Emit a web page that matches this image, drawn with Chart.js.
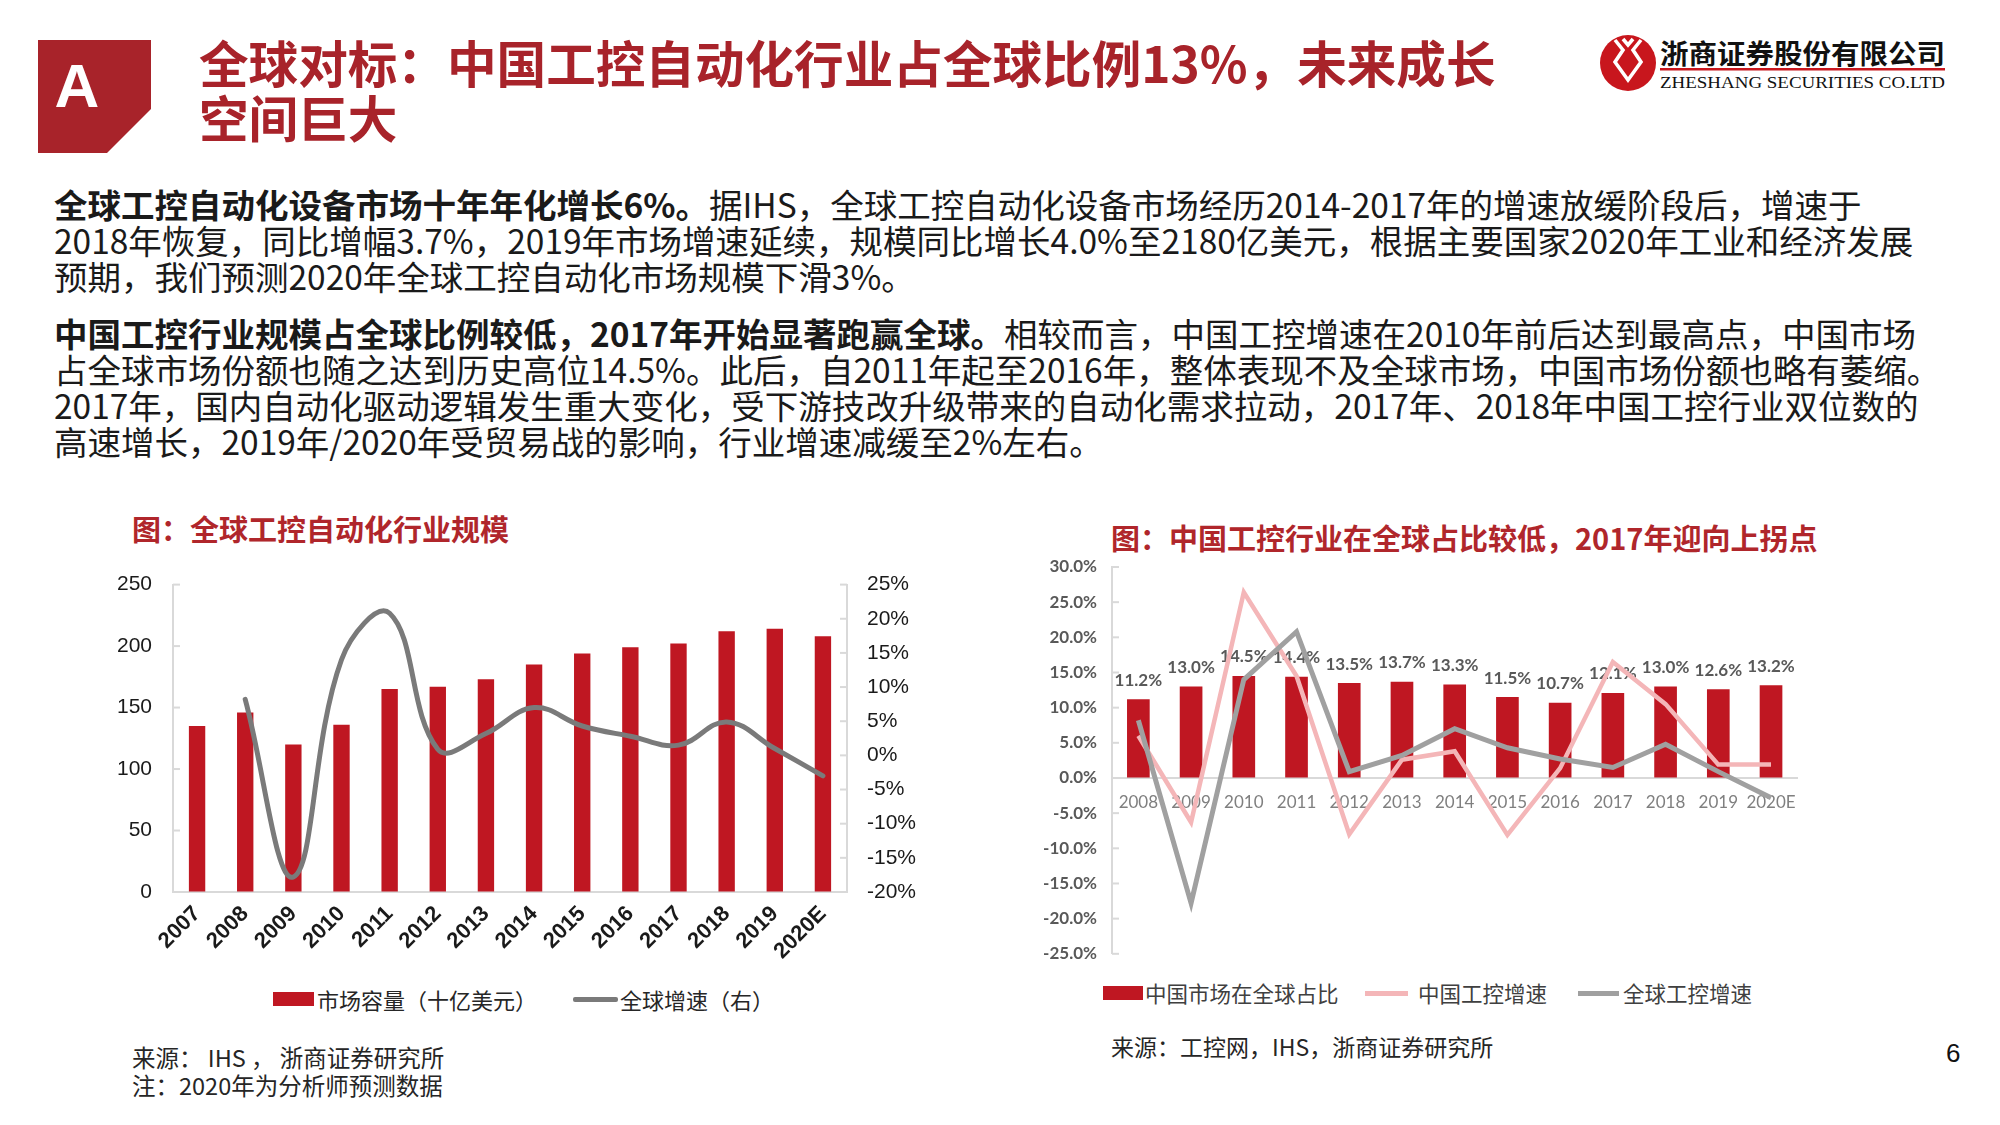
<!DOCTYPE html>
<html><head><meta charset="utf-8">
<script src="https://cdn.jsdelivr.net/npm/chart.js@4.4.1/dist/chart.umd.min.js"></script>
<style>
html,body{margin:0;padding:0;background:#fff;}
#page{position:relative;width:2000px;height:1125px;overflow:hidden;background:#fff;font-family:"Noto Sans CJK SC","Noto Sans",sans-serif;color:#1a1a1a;}
.abs{position:absolute;white-space:nowrap;}
.title{left:199px;top:34px;font-size:49.6px;font-weight:700;color:#A8232A;line-height:55px;}
.para{left:54px;font-size:33.5px;color:#1a1a1a;}
.para div{height:36px;line-height:36px;}
.para b{font-weight:700;}
.ctitle{font-size:29px;font-weight:700;color:#B0262B;line-height:36px;}
.src{font-size:23.5px;line-height:28px;height:28px;color:#262626;}
.leg{font-size:22px;line-height:28px;color:#262626;}
canvas{position:absolute;}
</style>
</head><body><div id="page">

<svg class="abs" style="left:0;top:0" width="2000" height="160">
  <polygon points="38,40 151,40 151,109 107,153 38,153" fill="#A8232A"/>
  <text x="77" y="85" fill="#fff" font-family="Liberation Sans, Arial" font-weight="700" font-size="62" text-anchor="middle" dominant-baseline="central">A</text>
  <circle cx="1628" cy="63" r="28" fill="#C8161D"/>
  <g transform="translate(1628,63)" fill="none" stroke="#fff" stroke-width="3.6" stroke-linejoin="miter">
    <path d="M-13,-23 L-5,-13 L-13,-1 L0,17 L13,-1 L5,-13 L13,-23"/>
    <path d="M-5,-24 L0,-18 L5,-24"/>
  </g>
  <text x="1660" y="52" fill="#111" font-family="Noto Sans CJK SC" font-weight="700" font-size="27" dominant-baseline="central" textLength="285" lengthAdjust="spacingAndGlyphs">浙商证券股份有限公司</text>
  <rect x="1660" y="68" width="285" height="2.5" fill="#C8161D"/>
  <text x="1660" y="82" fill="#111" font-family="Liberation Serif, Times New Roman" font-size="17" dominant-baseline="central" textLength="285" lengthAdjust="spacingAndGlyphs">ZHESHANG SECURITIES CO.LTD</text>
</svg>

<div class="abs title">全球对标：中国工控自动化行业占全球比例13%，未来成长<br>空间巨大</div>

<div class="abs para" style="top:186px">
<div><b>全球工控自动化设备市场十年年化增长6%。</b>据IHS，全球工控自动化设备市场经历2014-2017年的增速放缓阶段后，增速于</div>
<div>2018年恢复，同比增幅3.7%，2019年市场增速延续，规模同比增长4.0%至2180亿美元，根据主要国家2020年工业和经济发展</div>
<div>预期，我们预测2020年全球工控自动化市场规模下滑3%。</div>
</div>
<div class="abs para" style="top:315px">
<div><b>中国工控行业规模占全球比例较低，2017年开始显著跑赢全球。</b>相较而言，中国工控增速在2010年前后达到最高点，中国市场</div>
<div>占全球市场份额也随之达到历史高位14.5%。此后，自2011年起至2016年，整体表现不及全球市场，中国市场份额也略有萎缩。</div>
<div>2017年，国内自动化驱动逻辑发生重大变化，受下游技改升级带来的自动化需求拉动，2017年、2018年中国工控行业双位数的</div>
<div>高速增长，2019年/2020年受贸易战的影响，行业增速减缓至2%左右。</div>
</div>

<div class="abs ctitle" style="left:132px;top:510px">图：全球工控自动化行业规模</div>
<div class="abs ctitle" style="left:1111px;top:519px">图：中国工控行业在全球占比较低，2017年迎向上拐点</div>

<canvas id="c1" width="820" height="400" style="left:100px;top:570px"></canvas>
<canvas id="c2" width="780" height="416" style="left:1030px;top:550px"></canvas>

<!-- left legend -->
<div class="abs" style="left:273px;top:992px;width:41px;height:14px;background:#BF1722"></div>
<div class="abs leg" style="left:317px;top:985px">市场容量（十亿美元）</div>
<div class="abs" style="left:573px;top:997px;width:45px;height:5px;background:#7A7A7A;border-radius:2px"></div>
<div class="abs leg" style="left:620px;top:985px">全球增速（右）</div>

<!-- right legend -->
<div class="abs" style="left:1103px;top:986px;width:40px;height:14px;background:#BF1722"></div>
<div class="abs leg" style="left:1145px;top:979px;color:#404040;font-size:21.5px">中国市场在全球占比</div>
<div class="abs" style="left:1365px;top:991px;width:43px;height:5px;background:#F4B6B8"></div>
<div class="abs leg" style="left:1418px;top:979px;color:#404040;font-size:21.5px">中国工控增速</div>
<div class="abs" style="left:1578px;top:991px;width:41px;height:5px;background:#A0A0A0"></div>
<div class="abs leg" style="left:1623px;top:979px;color:#404040;font-size:21.5px">全球工控增速</div>

<div class="abs src" style="left:132px;top:1043px">来源： IHS ， 浙商证券研究所</div>
<div class="abs src" style="left:132px;top:1071px">注：2020年为分析师预测数据</div>
<div class="abs src" style="left:1111px;top:1032px;font-size:23px">来源：工控网，IHS，浙商证券研究所</div>
<div class="abs" style="left:1946px;top:1035px;font-size:26px;line-height:36px;font-family:'Liberation Sans',Arial;color:#111">6</div>

</div>
<script>
// ---- data: left chart ----
const years = ['2007','2008','2009','2010','2011','2012','2013','2014','2015','2016','2017','2018','2019','2020E'];
const marketSize = [135,146,120,136,165,167,173,185,194,199,202,212,214,208];
const globalGrowthLeft = [null,8.2,-17.8,14.0,20.8,0.9,3.2,7.0,4.3,2.8,1.5,4.9,1.0,-3.0];
// ---- data: right chart ----
const cnYears = ['2008','2009','2010','2011','2012','2013','2014','2015','2016','2017','2018','2019','2020E'];
const cnShare = [11.2,13.0,14.5,14.4,13.5,13.7,13.3,11.5,10.7,12.1,13.0,12.6,13.2];
const cnGrowth = [6.0,-6.3,26.4,14.5,-8.0,2.6,3.8,-8.1,1.4,16.5,10.5,1.9,1.9];
const globalGrowthRight = [8.2,-17.8,14.0,20.8,0.9,3.2,7.0,4.3,2.7,1.5,4.8,0.9,-2.8];

const RED = '#BF1722';
const AXIS = '#D9D9D9';

const innerTicks = {
  id:'innerTicks',
  beforeDatasetsDraw(chart, args, opts){
    const ctx = chart.ctx;
    (opts.axes||[]).forEach(a=>{
      const s = chart.scales[a.id]; if(!s) return;
      ctx.save(); ctx.strokeStyle = opts.color; ctx.lineWidth = opts.width;
      s.ticks.forEach((t,i)=>{
        const y = s.getPixelForTick(i);
        const x0 = a.side==='left' ? s.right : s.left;
        const x1 = a.side==='left' ? x0 + opts.len : x0 - opts.len;
        ctx.beginPath(); ctx.moveTo(x0,y); ctx.lineTo(x1,y); ctx.stroke();
      });
      ctx.restore();
    });
  }
};

const barLabels = {
  id:'barLabels',
  afterDatasetDraw(chart, args){
    if(args.index!==0) return;
    const ctx = chart.ctx;
    ctx.save();
    ctx.font = 'bold 17px Lato';
    ctx.fillStyle = '#595959';
    ctx.textAlign = 'center';
    ctx.textBaseline = 'middle';
    args.meta.data.forEach((el,i)=>{
      ctx.fillText(cnShare[i].toFixed(1)+'%', el.x, el.y - 19);
    });
    ctx.restore();
  }
};

const hiddenTicks = len => ({display:true, drawOnChartArea:false, drawTicks:true, tickLength:len, color:'rgba(0,0,0,0)'});

new Chart(document.getElementById('c1'), {
  data:{
    labels: years,
    datasets:[
      {type:'bar', label:'市场容量（十亿美元）', data: marketSize, backgroundColor: RED,
       yAxisID:'y', order:2, barPercentage:0.34, categoryPercentage:1},
      {type:'line', label:'全球增速（右）', data: globalGrowthLeft, borderColor:'#7A7A7A', borderWidth:5,
       pointRadius:0, tension:0.4, yAxisID:'y1', order:1, borderCapStyle:'round'}
    ]
  },
  options:{
    responsive:false, animation:false, devicePixelRatio:1,
    layout:{padding:{top:11,left:0,right:0,bottom:0}},
    plugins:{legend:{display:false}, tooltip:{enabled:false},
      innerTicks:{axes:[{id:'y',side:'left'},{id:'y1',side:'right'}], color:AXIS, width:2, len:7}},
    scales:{
      x:{ grid:{display:false, drawTicks:false}, border:{display:true,color:AXIS,width:2},
          ticks:{autoSkip:false, minRotation:45, maxRotation:45, padding:9, color:'#1a1a1a',
                 font:{family:'"Liberation Sans", Arial', size:22, weight:'bold'}},
          afterFit:s=>{s.height=78;} },
      y:{ position:'left', min:0, max:250, grid:hiddenTicks(19),
          border:{display:true,color:AXIS,width:2},
          ticks:{stepSize:50, padding:2, color:'#1a1a1a', font:{family:'"Liberation Sans", Arial', size:21}},
          afterFit:s=>{s.width=73;} },
      y1:{ position:'right', min:-20, max:25, grid:hiddenTicks(18),
          border:{display:true,color:AXIS,width:2},
          ticks:{stepSize:5, padding:2, color:'#1a1a1a', font:{family:'"Liberation Sans", Arial', size:21},
                 callback:v=>v+'%'},
          afterFit:s=>{s.width=73;} }
    }
  },
  plugins:[innerTicks]
});

new Chart(document.getElementById('c2'), {
  data:{
    labels: cnYears,
    datasets:[
      {type:'bar', label:'中国市场在全球占比', data: cnShare, backgroundColor: RED, order:3,
       barPercentage:0.43, categoryPercentage:1},
      {type:'line', label:'中国工控增速', data: cnGrowth, borderColor:'#F4B6B8', borderWidth:4.5,
       pointRadius:0, tension:0, order:2},
      {type:'line', label:'全球工控增速', data: globalGrowthRight, borderColor:'#A0A0A0', borderWidth:5,
       pointRadius:0, tension:0, order:1}
    ]
  },
  options:{
    responsive:false, animation:false, devicePixelRatio:1,
    layout:{padding:{top:17,left:0,right:9,bottom:12}},
    plugins:{legend:{display:false}, tooltip:{enabled:false},
      innerTicks:{axes:[{id:'y',side:'left'}], color:AXIS, width:2, len:7}},
    scales:{
      x:{ position:{y:0}, grid:{display:false, drawTicks:false}, border:{display:true,color:AXIS,width:2},
          ticks:{autoSkip:false, maxRotation:0, minRotation:0, padding:14, color:'#7F7F7F',
                 font:{family:'Lato', size:17}} },
      y:{ min:-25, max:30, grid:hiddenTicks(13),
          border:{display:true,color:AXIS,width:2},
          ticks:{stepSize:5, padding:2, color:'#595959', font:{family:'Lato', size:17, weight:'bold'},
                 callback:v=>v.toFixed(1)+'%'},
          afterFit:s=>{s.width=82;} }
    }
  },
  plugins:[innerTicks, barLabels]
});
</script>
</body></html>
